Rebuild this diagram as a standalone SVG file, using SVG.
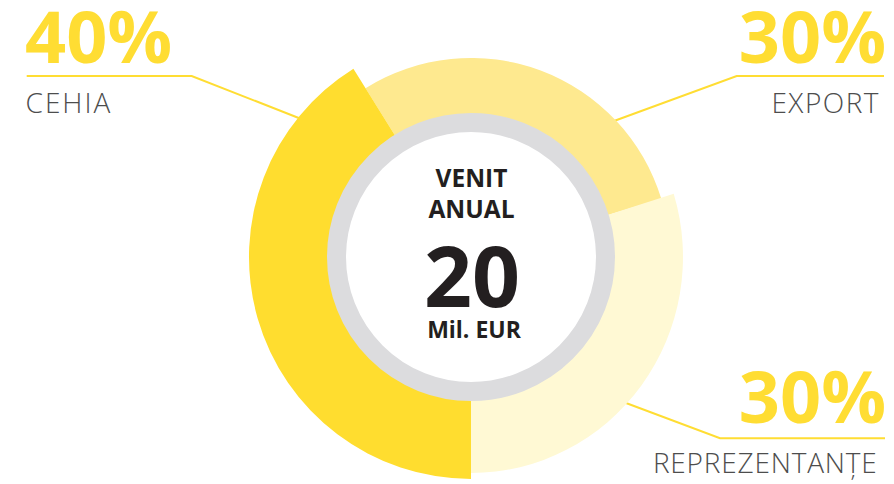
<svg xmlns="http://www.w3.org/2000/svg" width="894" height="484" viewBox="0 0 894 484">
<style>
.lead{fill:none;stroke:#FFDD33;stroke-width:2}
.pct{font-family:"Open Sans",sans-serif;font-weight:700;font-size:72px;fill:#FFDD33}
.lbl{font-family:"Open Sans",sans-serif;font-weight:300;font-size:28px;fill:#4D4D4D;letter-spacing:1.5px}
.ctr{font-family:"Open Sans",sans-serif;font-weight:700;fill:#231F20;text-anchor:middle}
</style>
<rect width="894" height="484" fill="#FFFFFF"/>
<g id="connectors">
<polyline class="lead" points="26.7,76 191.7,76 300,118.5"/>
<polyline class="lead" points="884,76 736.7,76 614,121"/>
<polyline class="lead" points="885,438.3 720,438.3 622,401.5"/>
</g>
<g id="seg-export">
<path d="M365.5,88.2 A199,199 0 0 1 661.3,198.8 L599.1,217.8 A134,134 0 0 0 400,143.4 Z" fill="#FEE98F"/>
</g>
<g id="seg-reprezentante">
<path d="M673.7,193.8 A212,216 0 0 1 471,473 L471,391 A134,134 0 0 0 599.1,217.8 Z" fill="#FFF9D4"/>
</g>
<g id="seg-cehia">
<path d="M471,479 A222,222 0 0 1 353.4,68.7 L400,143.4 A134,134 0 0 0 471,391 Z" fill="#FFDD2F"/>
</g>
<g id="center">
<circle cx="471" cy="257" r="134.5" fill="#FFFFFF" stroke="#DCDCDE" stroke-width="19"/>
<text class="ctr" x="471.5" y="186.7" font-size="24.5">VENIT</text>
<text class="ctr" x="471.5" y="218.3" font-size="24.5">ANUAL</text>
<text class="ctr" x="472" y="306.7" font-size="84">20</text>
<text class="ctr" x="474" y="338.3" font-size="23">Mil. EUR</text>
</g>
<g id="label-cehia">
<text class="pct" x="25" y="62.7">40%</text>
<text class="lbl" x="25.5" y="112.7" style="letter-spacing:2px">CEHIA</text>
</g>
<g id="label-export">
<text class="pct" x="886" y="62.7" text-anchor="end">30%</text>
<text class="lbl" x="880" y="112.7" text-anchor="end">EXPORT</text>
</g>
<g id="label-reprezentante">
<text class="pct" x="886" y="422.7" text-anchor="end">30%</text>
<text class="lbl" x="877.5" y="473.3" text-anchor="end" style="letter-spacing:0.8px">REPREZENTANȚE</text>
</g>
</svg>
